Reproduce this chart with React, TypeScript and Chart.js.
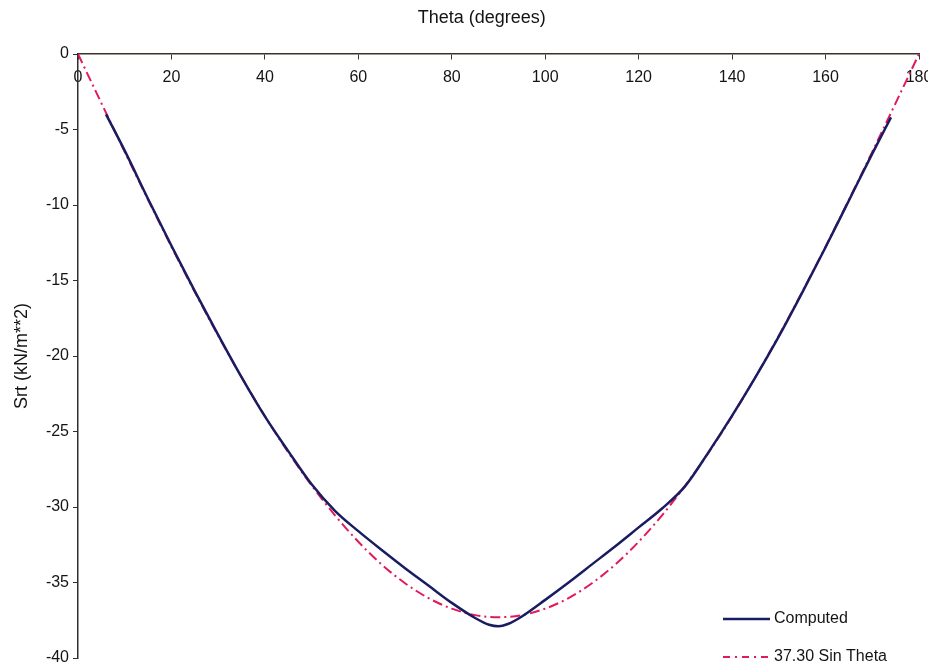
import React, { useEffect, useRef } from 'react';
import { Chart, registerables } from 'chart.js';

Chart.register(...registerables);

// 37.30 Sin Theta series
const sineTheta = [0, 5, 10, 15, 20, 25, 30, 35, 40, 45, 50, 55, 60, 65, 70, 75, 80, 85, 90, 95, 100, 105, 110, 115, 120, 125, 130, 135, 140, 145, 150, 155, 160, 165, 170, 175, 180];
const sineSrt = [0, -3.25, -6.48, -9.65, -12.76, -15.76, -18.65, -21.39, -23.98, -26.38, -28.57, -30.55, -32.3, -33.81, -35.05, -36.03, -36.73, -37.16, -37.3, -37.16, -36.73, -36.03, -35.05, -33.81, -32.3, -30.55, -28.57, -26.38, -23.98, -21.39, -18.65, -15.76, -12.76, -9.65, -6.48, -3.25, 0];

// Computed series
const computedTheta = [6, 10, 15, 20, 25, 30, 35, 40, 45, 50, 55, 60, 65, 70, 75, 80, 85, 88, 90, 92, 95, 100, 105, 110, 115, 120, 125, 130, 135, 140, 145, 150, 155, 160, 165, 170, 174];
const computedSrt = [-4.0, -6.4, -9.6, -12.7, -15.7, -18.6, -21.4, -24.0, -26.3, -28.5, -30.25, -31.6, -32.85, -34.05, -35.2, -36.35, -37.35, -37.8, -37.9, -37.75, -37.25, -36.15, -35.0, -33.8, -32.6, -31.35, -30.1, -28.6, -26.35, -23.95, -21.4, -18.7, -15.8, -12.8, -9.7, -6.6, -4.2];

const xTicks = [0, 20, 40, 60, 80, 100, 120, 140, 160, 180];
const yTicks = [0, -5, -10, -15, -20, -25, -30, -35, -40];

const xTitle = 'Theta (degrees)';
const yTitle = 'Srt (kN/m**2)';
const seriesLabels = ['Computed', '37.30 Sin Theta'];

export default function App() {
  const ref = useRef<HTMLCanvasElement | null>(null);

  useEffect(() => {
    if (!ref.current) return;
    document.documentElement.style.overflow = 'hidden';
    document.body.style.overflow = 'hidden';
    const family = '"Liberation Sans", Arial, Helvetica, sans-serif';
    const textColor = '#141414';
    const navy = '#1a1c62';
    const crimson = '#e2195b';
    const legendDashes = [[], [7, 5, 2, 5]];

    const overlay = {
      id: 'overlay',
      afterDraw(chart: any) {
        const ctx = chart.ctx;
        const ca = chart.chartArea;
        ctx.save();
        // top title
        ctx.fillStyle = textColor;
        ctx.font = `18px ${family}`;
        ctx.textAlign = 'center';
        ctx.textBaseline = 'middle';
        ctx.fillText(xTitle, ca.left + (ca.right - ca.left) * 0.48, 10);
        // legend
        const x0 = ca.right - 196;
        const x1 = ca.right - 149;
        const tx = ca.right - 145;
        const rows = [ca.bottom - 39, ca.bottom - 1];
        chart.data.datasets.forEach((ds: any, i: number) => {
          const y = rows[i];
          ctx.strokeStyle = ds.borderColor;
          ctx.lineWidth = ds.borderWidth;
          ctx.setLineDash(legendDashes[i]);
          ctx.beginPath();
          ctx.moveTo(x0, y);
          ctx.lineTo(x1, y);
          ctx.stroke();
          ctx.setLineDash([]);
          ctx.fillStyle = textColor;
          ctx.font = `16px ${family}`;
          ctx.textAlign = 'left';
          ctx.textBaseline = 'middle';
          ctx.fillText(ds.label, tx, y);
        });
        ctx.restore();
      },
    };

    const chart = new Chart(ref.current, {
      type: 'line',
      data: {
        datasets: [
          {
            label: seriesLabels[0],
            data: computedTheta.map((t, i) => ({ x: t, y: computedSrt[i] })),
            borderColor: navy,
            borderWidth: 2.5,
            pointRadius: 0,
            fill: false,
            cubicInterpolationMode: 'monotone',
          },
          {
            label: seriesLabels[1],
            data: sineTheta.map((t, i) => ({ x: t, y: sineSrt[i] })),
            borderColor: crimson,
            borderWidth: 2,
            borderDash: [10, 4, 2, 4],
            pointRadius: 0,
            fill: false,
            cubicInterpolationMode: 'monotone',
          },
        ],
      },
      plugins: [overlay],
      options: {
        animation: false,
        responsive: false,
        maintainAspectRatio: false,
        devicePixelRatio: 1,
        layout: { padding: { top: 46, right: 17, bottom: 10, left: 0 } },
        plugins: {
          legend: { display: false },
          title: { display: false },
          tooltip: { enabled: false },
        },
        scales: {
          x: {
            type: 'linear',
            position: { y: 0 },
            min: 0,
            max: 180,
            afterBuildTicks: (scale: any) => {
              scale.ticks = xTicks.map((v) => ({ value: v }));
            },
            afterFit: (scale: any) => {
              scale.paddingLeft = 0;
              scale.paddingRight = 0;
            },
            grid: {
              display: true,
              drawOnChartArea: false,
              drawTicks: true,
              tickLength: 5,
              color: '#3a3530',
              lineWidth: 1,
            },
            border: { display: true, color: '#3a3228', width: 1.5 },
            ticks: {
              color: textColor,
              padding: 9,
              maxRotation: 0,
              font: { family, size: 16 },
            },
          },
          y: {
            type: 'linear',
            position: 'left',
            min: -40,
            max: 0,
            afterBuildTicks: (scale: any) => {
              scale.ticks = yTicks.map((v) => ({ value: v }));
            },
            afterFit: (scale: any) => {
              scale.width = 70;
              scale.paddingTop = 0;
              scale.paddingBottom = 0;
            },
            grid: {
              display: true,
              drawOnChartArea: false,
              drawTicks: true,
              tickLength: 5,
              color: '#2e2e2e',
              lineWidth: 1,
            },
            border: { display: true, color: '#2e2e2e', width: 1.5 },
            ticks: {
              color: textColor,
              padding: 4,
              font: { family, size: 16 },
            },
            title: {
              display: true,
              text: yTitle,
              color: textColor,
              padding: { top: 3, bottom: 0 },
              font: { family, size: 18 },
            },
          },
        },
      },
    } as any);

    return () => chart.destroy();
  }, []);

  return (
    <div style={{ width: 928, height: 660 }}>
      <canvas ref={ref} width={928} height={660} style={{ display: 'block', width: 928, height: 660 }} />
    </div>
  );
}
